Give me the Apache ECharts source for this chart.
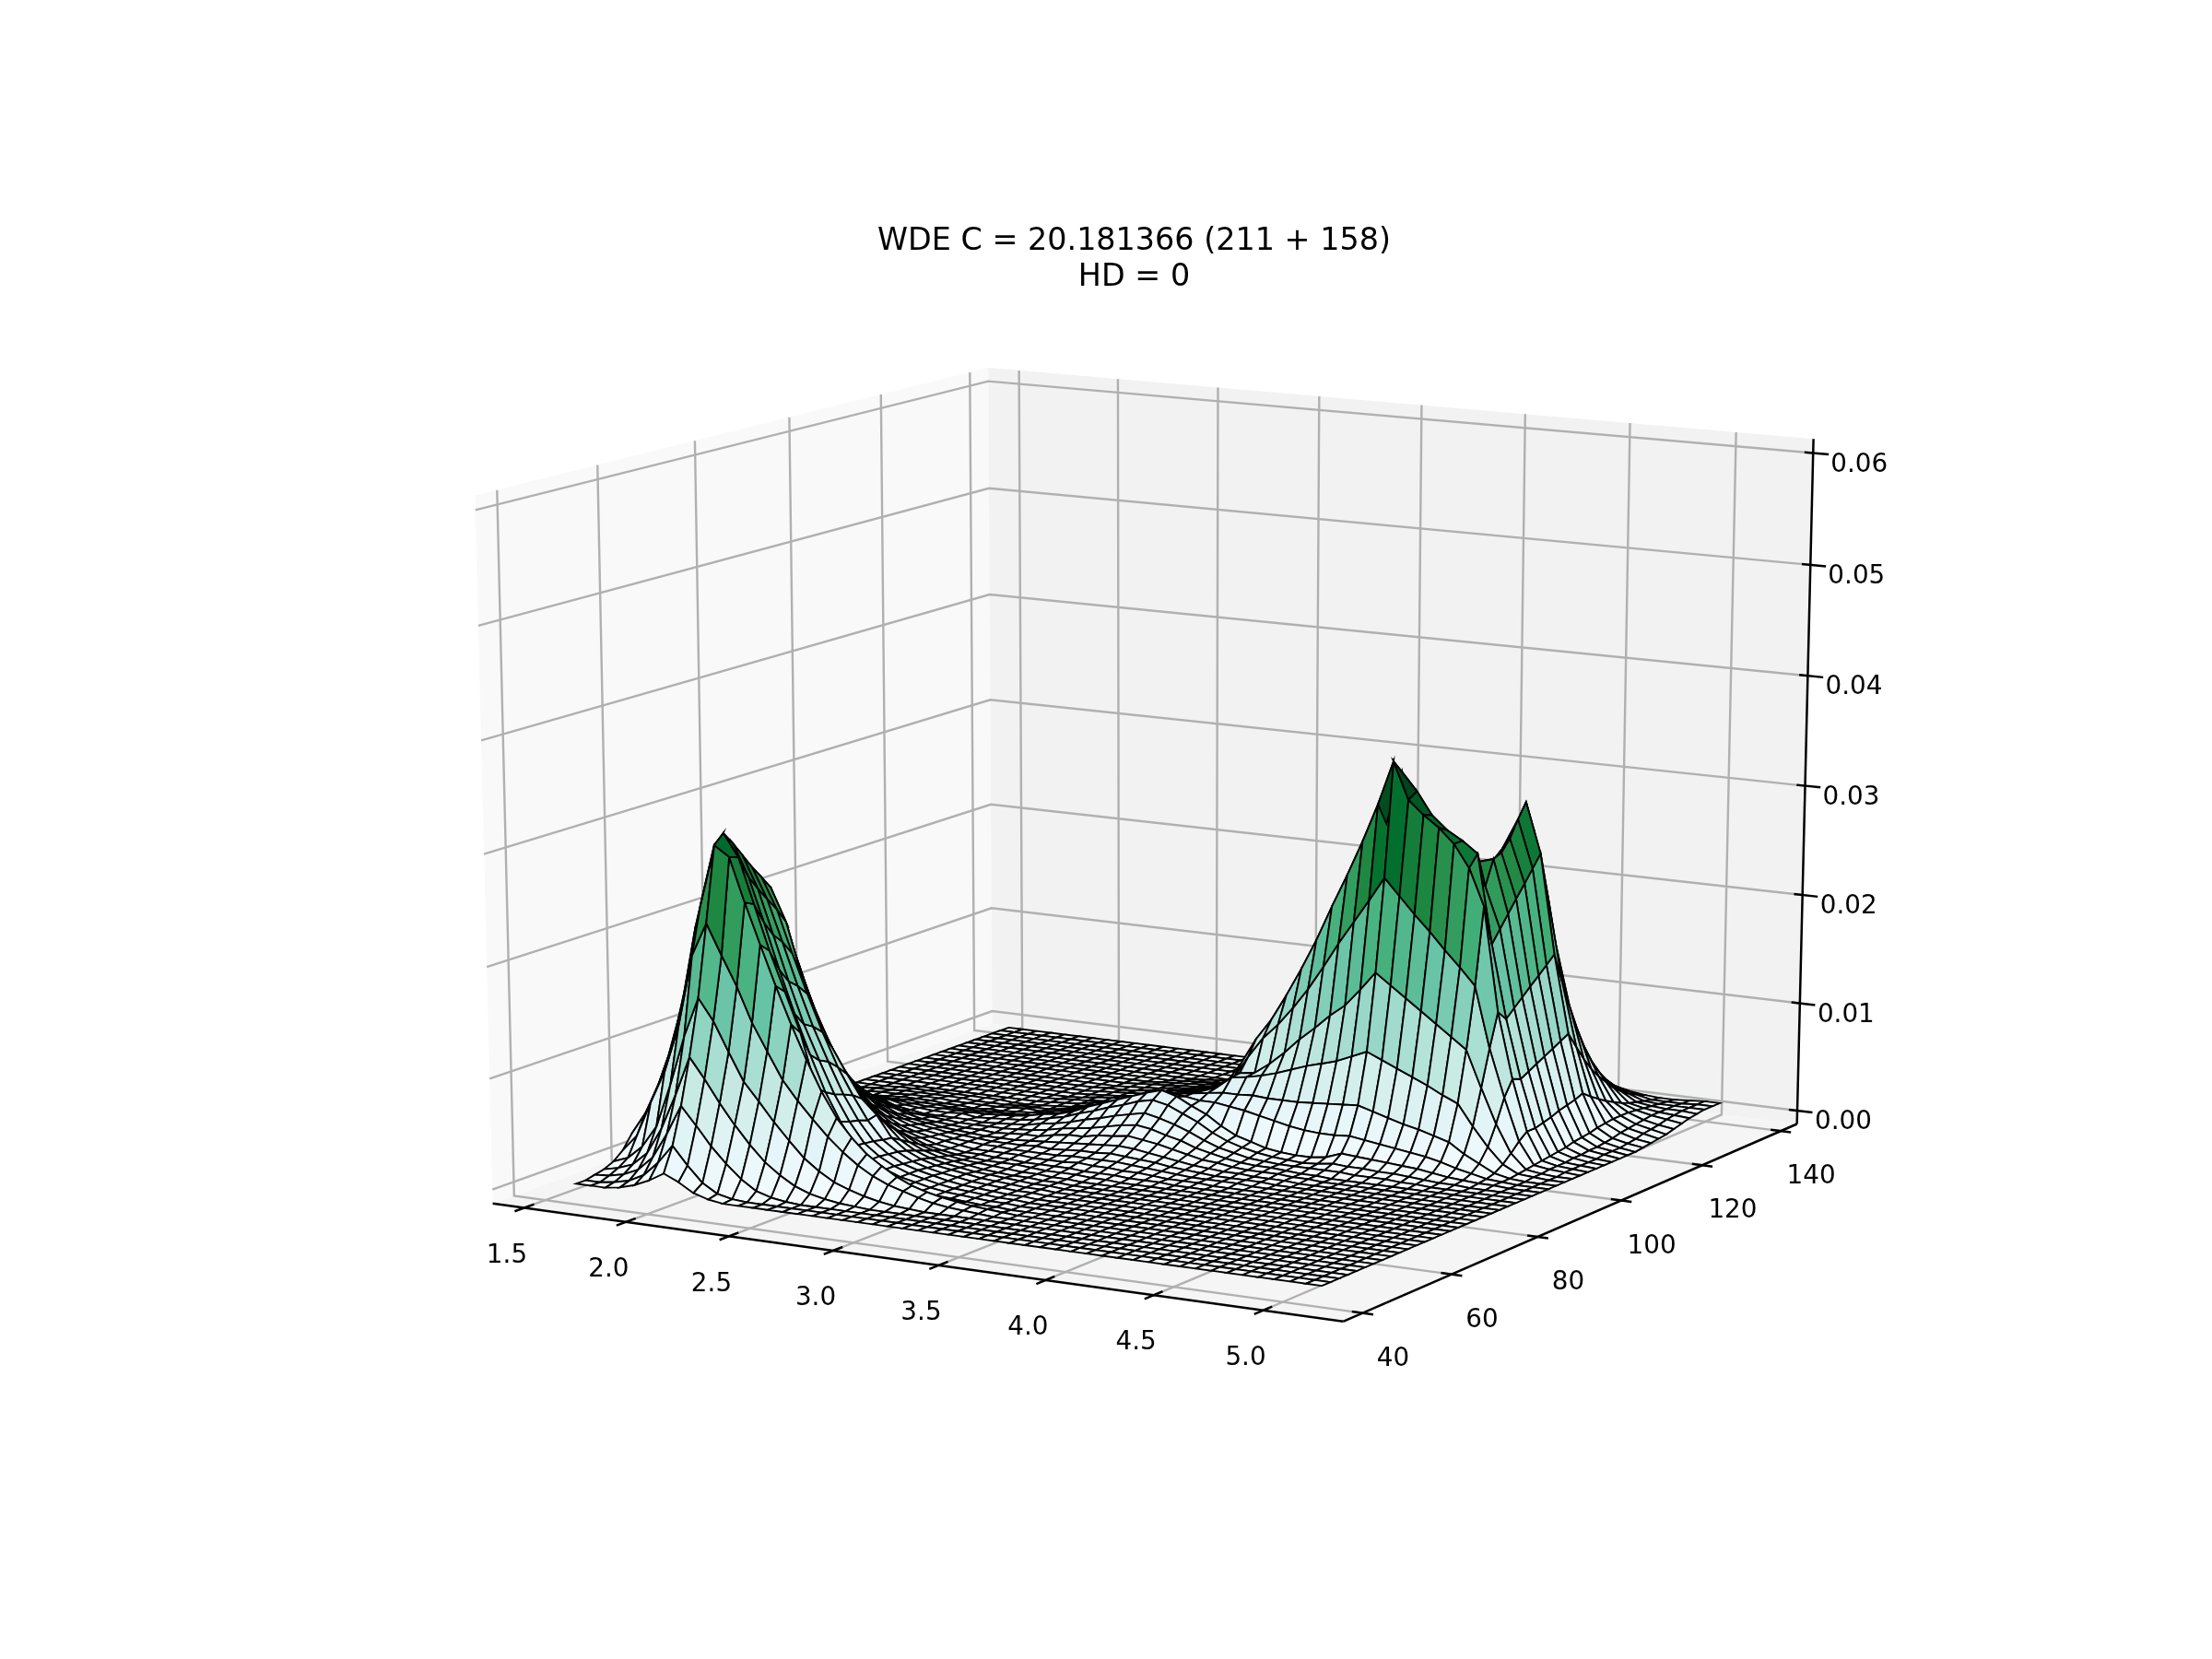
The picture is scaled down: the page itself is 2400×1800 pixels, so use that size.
<!DOCTYPE html>
<html><head><meta charset="utf-8">
<style>html,body{margin:0;padding:0;background:#fff}#c{width:2400px;height:1800px}</style>
<script src="https://cdn.jsdelivr.net/npm/echarts@6/dist/echarts.min.js"></script>
</head><body><div id="c"></div>
<script>
const titleText = 'WDE C = 20.181366 (211 + 158)\nHD = 0';
const xTicks = [1.5,2.0,2.5,3.0,3.5,4.0,4.5,5.0];
const yTicks = [40,60,80,100,120,140];
const zTicks = [0,0.01,0.02,0.03,0.04,0.05,0.06];
const xLim = [1.343,5.361], yLim = [35.7,144.2], zLim = [-0.00125,0.06125];
const xGrid = [1.584,1.656,1.728,1.800,1.873,1.945,2.017,2.089,2.161,2.233,2.305,2.378,2.450,2.522,2.594,2.666,2.738,2.810,2.883,2.955,3.027,3.099,3.171,3.243,3.315,3.388,3.460,3.532,3.604,3.676,3.748,3.820,3.893,3.965,4.037,4.109,4.181,4.253,4.325,4.398,4.470,4.542,4.614,4.686,4.758,4.830,4.902,4.975,5.047,5.119];
const yGrid = [42.8,44.7,46.6,48.5,50.5,52.4,54.3,56.2,58.2,60.1,62.0,64.0,65.9,67.8,69.7,71.7,73.6,75.5,77.4,79.4,81.3,83.2,85.2,87.1,89.0,90.9,92.9,94.8,96.7,98.7,100.6,102.5,104.4,106.4,108.3,110.2,112.1,114.1,116.0,117.9,119.9,121.8,123.7,125.6,127.6,129.5,131.4,133.3,135.3,137.2];
// density, in units of 1e-4; one row per yGrid value, columns follow xGrid, missing trailing columns are 0
const zRows = [
[0,0,0,2,6,12,20,14,6,2],
[0,0,2,5,12,25,42,26,12,4,1],
[2,3,6,12,25,48,75,59,42,28,16,7,3,1],
[4,7,12,24,48,80,116,98,78,60,44,30,20,12,7,4,2,1],
[8,13,25,45,85,130,166,147,121,96,80,63,48,34,24,16,11,7,4,2,1],
[15,30,62,92,135,200,230,203,177,146,122,98,81,66,52,40,30,22,16,12,8,5,3,2,1],
[27,48,78,116,174,242,297,288,249,213,178,145,115,88,66,50,37,28,20,14,10,7,5,3,2,1],
[34,61,98,146,218,272,305,285,245,205,170,135,87,64,38,25,17,12,9,6,4,3,2,1,1],
[32,59,97,147,220,264,293,265,226,185,147,112,80,55,35,24,17,12,9,6,4,3,2,1,1],
[31,56,92,140,210,252,280,252,212,172,135,104,75,52,34,24,17,12,9,6,4,3,2,1,1],
[29,53,88,134,200,240,267,240,203,165,130,100,72,50,33,23,16,12,9,6,4,3,2,1,1],
[28,51,84,128,191,230,255,228,190,155,122,92,68,47,31,22,15,11,8,6,4,3,2,1,1],
[27,49,80,122,182,219,243,214,168,133,106,83,62,49,30,20,14,10,8,6,4,3,2,1,1],
[24,44,72,110,164,197,219,182,143,110,87,64,49,38,25,17,12,9,7,5,4,3,2,1,1],
[21,38,62,94,141,169,188,154,116,89,69,50,38,30,20,14,10,8,6,4,3,2,2,1,1],
[18,32,53,80,120,144,160,127,97,73,53,38,29,22,15,11,8,6,5,4,3,2,2,1,1],
[15,27,44,67,100,120,133,100,75,56,41,29,21,16,11,8,6,5,4,4,4,3,2,2,2,1,1],
[12,22,36,55,83,99,110,82,60,44,32,23,17,13,9,7,5,5,4,4,3,3,3,3,2,2,2,1,1,1],
[9,17,28,43,65,77,86,64,47,34,25,18,14,11,9,7,5,5,5,5,4,4,4,5,4,4,3,3,2,1,1,1],
[7,14,22,34,51,61,68,50,37,27,20,15,12,10,8,7,6,6,5,5,5,5,6,6,6,6,5,4,3,2,1,1,1,1],
[6,10,17,26,39,47,52,38,28,21,16,13,11,9,8,7,6,6,6,7,6,7,8,8,9,8,7,6,4,3,2,1,1,1,1],
[4,8,13,20,30,36,40,29,22,16,13,11,9,8,7,6,6,6,7,8,9,10,11,12,13,12,10,8,6,4,3,2,2,1,1,1],
[3,6,10,15,23,27,30,22,17,13,10,9,8,7,7,6,7,8,8,11,13,13,16,17,19,17,15,12,9,6,5,3,2,2,2,1,1],
[2,4,7,11,17,20,22,16,12,10,9,8,7,7,7,7,8,9,11,14,16,18,21,24,26,24,20,17,12,9,6,4,3,3,2,1,1],
[2,3,5,8,12,14,16,11,9,7,7,7,7,6,7,8,9,12,14,17,21,24,28,31,34,31,27,22,16,11,8,5,4,3,3,3,3,3,2,2,2,1,1],
[1,2,4,6,9,11,12,9,8,7,7,8,6,7,8,9,11,14,17,22,26,31,35,40,43,40,34,28,20,14,10,7,5,4,3,4,6,5,5,4,4,3,2,1,1],
[1,2,3,4,6,7,8,7,6,6,6,6,6,7,8,10,13,15,19,25,30,35,40,45,49,45,38,32,23,16,12,8,6,5,5,7,12,11,10,9,8,7,5,3,2,1,1],
[1,1,2,3,5,5,6,5,5,4,4,4,5,5,6,7,9,12,15,20,24,29,33,38,44,42,40,40,38,36,33,30,27,25,24,24,25,23,21,19,17,15,12,8,5,2,1],
[0,1,1,2,3,4,4,4,3,3,2,3,3,4,5,6,8,11,15,20,24,29,33,37,40,42,44,46,46,47,46,46,46,47,48,49,50,46,42,38,35,31,27,18,11,4,1],
[0,1,1,2,2,3,3,3,2,2,2,2,3,4,3,5,7,10,14,18,23,29,34,38,38,41,46,57,59,62,66,71,76,80,84,90,96,90,84,78,72,65,59,40,23,9,2,1],
[0,0,1,1,2,2,2,2,2,1,1,1,2,2,2,4,6,10,14,18,22,27,32,35,36,40,47,58,60,70,82,96,108,121,132,148,165,155,145,135,125,115,105,72,41,16,3,1],
[0,0,0,1,1,1,1,1,1,1,1,0,0,1,2,3,6,9,12,16,21,26,30,33,33,40,48,70,89,103,120,139,161,184,205,226,248,233,218,204,189,175,160,105,62,24,4,2,1],
[0,0,0,0,0,0,0,0,0,0,0,0,0,1,2,3,6,8,11,15,19,24,27,29,33,40,60,84,103,127,153,181,213,243,275,310,350,317,305,295,282,262,229,135,76,30,5,2,1],
[0,0,0,0,0,0,0,0,0,0,0,0,0,1,2,3,4,6,9,11,14,18,22,24,34,44,60,80,97,118,142,168,195,225,255,290,338,322,302,290,282,272,192,126,73,30,6,2,1],
[0,0,0,0,0,0,0,0,0,0,0,0,0,0,1,3,4,6,8,10,13,16,19,23,27,35,46,65,78,97,119,140,165,186,213,240,270,265,262,262,258,240,203,133,77,32,7,3,1],
[0,0,0,0,0,0,0,0,0,0,0,0,0,0,1,2,3,5,7,9,11,14,17,20,24,32,42,59,71,88,108,127,149,169,194,218,245,240,250,258,258,262,214,140,81,34,8,3,1],
[0,0,0,0,0,0,0,0,0,0,0,0,0,0,1,2,3,4,6,8,10,12,15,18,22,29,38,54,65,81,99,117,137,155,178,200,225,225,238,248,252,265,225,147,85,37,10,4,2],
[0,0,0,0,0,0,0,0,0,0,0,0,0,0,1,1,2,4,5,7,9,11,13,16,20,27,35,49,59,74,90,107,125,141,162,182,205,212,228,240,255,275,236,154,89,39,11,4,2],
[0,0,0,0,0,0,0,0,0,0,0,0,0,0,0,1,2,3,5,6,8,10,12,14,18,24,31,44,54,67,81,96,113,128,146,165,185,205,225,243,262,290,247,161,93,41,12,5,2],
[0,0,0,0,0,0,0,0,0,0,0,0,0,0,0,1,2,3,4,5,7,9,11,13,17,22,29,41,49,61,75,88,104,117,134,151,170,198,222,248,270,303,258,168,97,44,14,6,3,1],
[0,0,0,0,0,0,0,0,0,0,0,0,0,0,0,0,1,2,3,4,6,7,9,11,14,18,24,34,41,50,62,73,85,97,111,125,140,165,190,215,245,275,215,140,82,38,15,8,4,2],
[0,0,0,0,0,0,0,0,0,0,0,0,0,0,0,0,0,1,2,3,4,6,7,9,11,14,19,26,32,40,48,57,67,76,87,98,110,132,158,180,205,232,172,115,68,33,16,9,6,3],
[0,0,0,0,0,0,0,0,0,0,0,0,0,0,0,0,0,0,1,2,3,4,5,6,8,11,14,20,25,31,37,44,52,59,67,76,85,103,125,145,165,196,130,92,56,28,16,10,7,4],
[0,0,0,0,0,0,0,0,0,0,0,0,0,0,0,0,0,0,0,0,1,2,3,4,6,8,11,16,19,23,29,34,40,45,51,58,65,79,96,112,128,151,100,72,46,24,16,11,8,6],
[0,0,0,0,0,0,0,0,0,0,0,0,0,0,0,0,0,0,0,0,0,1,2,3,5,6,8,12,14,17,21,25,29,33,38,43,48,60,73,85,100,118,76,55,37,20,15,12,10,8],
[0,0,0,0,0,0,0,0,0,0,0,0,0,0,0,0,0,0,0,0,0,0,1,2,3,5,6,8,10,13,15,18,21,24,28,31,35,44,54,65,75,86,57,42,29,17,14,12,11,10],
[0,0,0,0,0,0,0,0,0,0,0,0,0,0,0,0,0,0,0,0,0,0,0,1,2,3,4,6,7,9,11,13,15,17,20,22,25,32,40,47,55,63,42,32,23,15,13,12,12,11],
[0,0,0,0,0,0,0,0,0,0,0,0,0,0,0,0,0,0,0,0,0,0,0,1,2,2,3,4,5,6,8,9,11,12,14,16,18,23,29,34,40,48,31,24,18,13,12,12,12,12],
[0,0,0,0,0,0,0,0,0,0,0,0,0,0,0,0,0,0,0,0,0,0,0,0,1,2,2,3,3,4,5,6,7,8,9,11,12,16,20,24,28,33,22,18,14,11,11,11,12,12],
[0,0,0,0,0,0,0,0,0,0,0,0,0,0,0,0,0,0,0,0,0,0,0,0,0,1,1,2,2,3,3,4,5,6,6,8,8,11,14,17,20,24,16,13,11,10,10,11,12,12]
];
const bugn = ['#f7fcfd','#e5f5f9','#ccece6','#99d8c9','#66c2a4','#41ae76','#238b45','#006d2c','#00441b'];

// matplotlib style camera
const elev = 15*Math.PI/180, azim = -60*Math.PI/180, dist = 10;
const n = [Math.cos(elev)*Math.cos(azim), Math.cos(elev)*Math.sin(azim), Math.sin(elev)];
const u = [-Math.sin(azim), Math.cos(azim), 0];
const v = [n[1]*u[2]-n[2]*u[1], n[2]*u[0]-n[0]*u[2], n[0]*u[1]-n[1]*u[0]];
function proj(x,y,z){
  const p = [(x-xLim[0])/(xLim[1]-xLim[0])-0.5,(y-yLim[0])/(yLim[1]-yLim[0])-0.5,(z-zLim[0])/(zLim[1]-zLim[0])-0.5];
  const dot = (a,b)=>a[0]*b[0]+a[1]*b[1]+a[2]*b[2];
  const D = dist - dot(p,n);
  return [dot(p,u)/D, dot(p,v)/D, D];
}
const zAt = (i,j)=>((zRows[j][i]||0)*1e-4);
function hexRgb(h){return [parseInt(h.slice(1,3),16),parseInt(h.slice(3,5),16),parseInt(h.slice(5,7),16)];}

const facets = [];
let zMaxF = 0, zMinF = 1e9;
for(let j=0;j<yGrid.length-1;j++)for(let i=0;i<xGrid.length-1;i++){
  const m = (zAt(i,j)+zAt(i+1,j)+zAt(i,j+1)+zAt(i+1,j+1))/4;
  zMaxF=Math.max(zMaxF,m); zMinF=Math.min(zMinF,m);
  const ds=[[i,j],[i+1,j],[i+1,j+1],[i,j+1]].map(c=>proj(xGrid[c[0]],yGrid[c[1]],zAt(c[0],c[1]))[2]);
  facets.push([i,j,(ds[0]+ds[1]+ds[2]+ds[3])/4,m]);
}
facets.sort((a,b)=>b[2]-a[2]);
function colorOf(m){
  const t=Math.max(0,Math.min(1,(m-zMinF)/(zMaxF-zMinF)))*(bugn.length-1);
  const k=Math.min(bugn.length-2,Math.floor(t)),f=t-k,a=hexRgb(bugn[k]),b=hexRgb(bugn[k+1]);
  return 'rgb('+a.map((c,q)=>Math.round(c+(b[q]-c)*f)).join(',')+')';
}

// linear placement of the projected plane on the page
const cx=1254.5, kx=10490, cy=889, ky=7820;
const X0=xLim[0],X1=xLim[1],Y0=yLim[0],Y1=yLim[1],Z0=zLim[0],Z1=zLim[1];
const dxT=(X1-X0), dyT=(Y1-Y0);

const panes=[
 {pts:[[X0,Y0,Z0],[X0,Y1,Z0],[X0,Y1,Z1],[X0,Y0,Z1]],fill:'#f9f9f9'},
 {pts:[[X0,Y1,Z0],[X1,Y1,Z0],[X1,Y1,Z1],[X0,Y1,Z1]],fill:'#f2f2f2'},
 {pts:[[X0,Y0,Z0],[X1,Y0,Z0],[X1,Y1,Z0],[X0,Y1,Z0]],fill:'#f5f5f5'}
];
const gridLines=[];
xTicks.forEach(t=>gridLines.push([[t,Y0,Z0],[t,Y1,Z0],[t,Y1,Z1]]));
yTicks.forEach(t=>gridLines.push([[X1,t,Z0],[X0,t,Z0],[X0,t,Z1]]));
zTicks.forEach(t=>gridLines.push([[X1,Y1,t],[X0,Y1,t],[X0,Y0,t]]));
const axisLines=[
 [[X0,Y0,Z0],[X1,Y0,Z0]],
 [[X1,Y0,Z0],[X1,Y1,Z0]],
 [[X1,Y1,Z0],[X1,Y1,Z1]]
];
xTicks.forEach(t=>axisLines.push([[t,Y0-0.018*dyT,Z0],[t,Y0+0.018*dyT,Z0]]));
yTicks.forEach(t=>axisLines.push([[X1-0.012*dxT,t,Z0],[X1+0.012*dxT,t,Z0]]));
zTicks.forEach(t=>axisLines.push([[X1-0.01*dxT,Y1,t],[X1+0.018*dxT,Y1,t]]));
const labels=[];
xTicks.forEach(t=>labels.push({p:[t,Y0,Z0],o:[-19,52],s:t.toFixed(1)}));
yTicks.forEach(t=>labels.push({p:[X1,t,Z0],o:[33,50],s:String(t)}));
zTicks.forEach(t=>labels.push({p:[X1,Y1,t],o:[50,13],s:t.toFixed(2)}));

const chart=echarts.init(document.getElementById('c'),null,{renderer:'canvas'});
const P=(api,q)=>{const r=proj(q[0],q[1],q[2]);return api.coord([r[0],r[1]]);};
const FONT='"DejaVu Sans"';
chart.setOption({
  animation:false,
  backgroundColor:'#ffffff',
  title:{text:titleText,left:1225.5,top:238,textAlign:'center',
    textStyle:{fontFamily:FONT,fontSize:33.4,fontWeight:'normal',color:'#000',lineHeight:39}},
  grid:{left:0,right:0,top:0,bottom:0},
  xAxis:{type:'value',min:(0-cx)/kx,max:(2400-cx)/kx,show:false},
  yAxis:{type:'value',min:(cy-1800)/ky,max:cy/ky,show:false},
  tooltip:{show:false},
  series:[
   {type:'custom',coordinateSystem:'cartesian2d',silent:true,clip:false,z:1,data:panes.map((_,k)=>[k]),
    renderItem:(p,api)=>{const d=panes[api.value(0)];
      return {type:'polygon',shape:{points:d.pts.map(q=>P(api,q))},style:{fill:d.fill,stroke:null}};}},
   {type:'custom',coordinateSystem:'cartesian2d',silent:true,clip:false,z:2,data:gridLines.map((_,k)=>[k]),
    renderItem:(p,api)=>({type:'polyline',shape:{points:gridLines[api.value(0)].map(q=>P(api,q))},
      style:{fill:null,stroke:'#b0b0b0',lineWidth:2.4}})},
   {type:'custom',coordinateSystem:'cartesian2d',silent:true,clip:false,z:3,data:axisLines.map((_,k)=>[k]),
    renderItem:(p,api)=>({type:'polyline',shape:{points:axisLines[api.value(0)].map(q=>P(api,q))},
      style:{fill:null,stroke:'#000',lineWidth:2.5}})},
   {type:'custom',coordinateSystem:'cartesian2d',silent:true,clip:false,z:4,progressive:0,
    data:facets,
    renderItem:(p,api)=>{const i=api.value(0),j=api.value(1),m=api.value(3);
      const pts=[[i,j],[i+1,j],[i+1,j+1],[i,j+1]].map(c=>P(api,[xGrid[c[0]],yGrid[c[1]],zAt(c[0],c[1])]));
      return {type:'polygon',shape:{points:pts},style:{fill:colorOf(m),stroke:'#000',lineWidth:1.9,lineJoin:'miter'}};}},
   {type:'custom',coordinateSystem:'cartesian2d',silent:true,clip:false,z:5,data:labels.map((_,k)=>[k]),
    renderItem:(p,api)=>{const d=labels[api.value(0)],c=P(api,d.p);
      return {type:'text',style:{x:c[0]+d.o[0],y:c[1]+d.o[1],text:d.s,fill:'#000',fontSize:27.8,fontFamily:FONT,align:'center',verticalAlign:'middle'}};}}
  ]
});
</script></body></html>
